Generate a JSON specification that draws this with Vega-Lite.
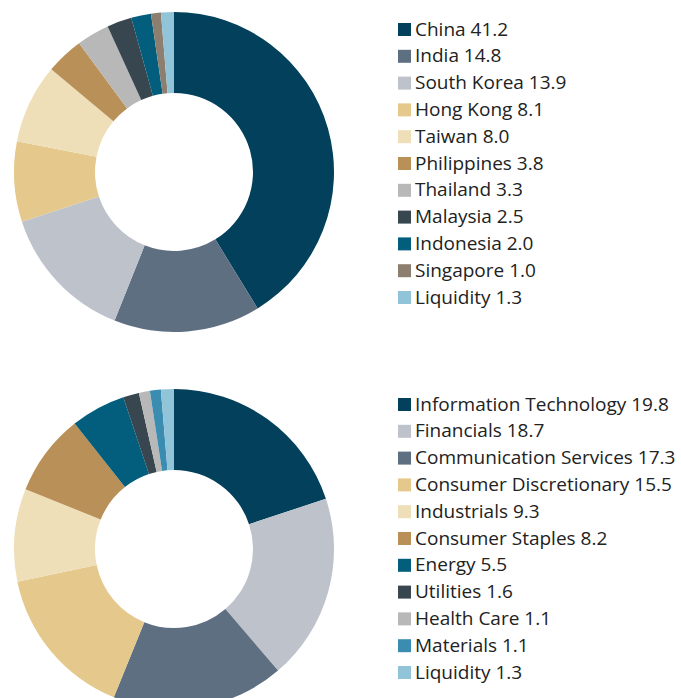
{
  "$schema": "https://vega.github.io/schema/vega-lite/v6.json",
  "padding": 0,
  "spacing": 45,
  "background": "white",
  "config": {
    "view": {"stroke": null},
    "legend": {
      "orient": "none",
      "title": null,
      "symbolType": "square",
      "symbolSize": 169,
      "symbolStrokeWidth": 0,
      "symbolOpacity": 1,
      "labelFont": "Open Sans",
      "labelFontSize": 19,
      "labelColor": "#222222",
      "labelLimit": 400,
      "labelOffset": 1,
      "rowPadding": 6.8,
      "padding": 0
    }
  },
  "datasets": {
    "countries": [
      {"i": 1, "name": "China", "value": 41.2, "label": "China 41.2"},
      {"i": 2, "name": "India", "value": 14.8, "label": "India 14.8"},
      {"i": 3, "name": "South Korea", "value": 13.9, "label": "South Korea 13.9"},
      {"i": 4, "name": "Hong Kong", "value": 8.1, "label": "Hong Kong 8.1"},
      {"i": 5, "name": "Taiwan", "value": 8.0, "label": "Taiwan 8.0"},
      {"i": 6, "name": "Philippines", "value": 3.8, "label": "Philippines 3.8"},
      {"i": 7, "name": "Thailand", "value": 3.3, "label": "Thailand 3.3"},
      {"i": 8, "name": "Malaysia", "value": 2.5, "label": "Malaysia 2.5"},
      {"i": 9, "name": "Indonesia", "value": 2.0, "label": "Indonesia 2.0"},
      {"i": 10, "name": "Singapore", "value": 1.0, "label": "Singapore 1.0"},
      {"i": 11, "name": "Liquidity", "value": 1.3, "label": "Liquidity 1.3"}
    ],
    "sectors": [
      {"i": 1, "name": "Information Technology", "value": 19.8, "label": "Information Technology 19.8"},
      {"i": 2, "name": "Financials", "value": 18.7, "label": "Financials 18.7"},
      {"i": 3, "name": "Communication Services", "value": 17.3, "label": "Communication Services 17.3"},
      {"i": 4, "name": "Consumer Discretionary", "value": 15.5, "label": "Consumer Discretionary 15.5"},
      {"i": 5, "name": "Industrials", "value": 9.3, "label": "Industrials 9.3"},
      {"i": 6, "name": "Consumer Staples", "value": 8.2, "label": "Consumer Staples 8.2"},
      {"i": 7, "name": "Energy", "value": 5.5, "label": "Energy 5.5"},
      {"i": 8, "name": "Utilities", "value": 1.6, "label": "Utilities 1.6"},
      {"i": 9, "name": "Health Care", "value": 1.1, "label": "Health Care 1.1"},
      {"i": 10, "name": "Materials", "value": 1.1, "label": "Materials 1.1"},
      {"i": 11, "name": "Liquidity", "value": 1.3, "label": "Liquidity 1.3"}
    ]
  },
  "vconcat": [
    {
      "width": 348,
      "height": 344,
      "data": {"name": "countries"},
      "mark": {"type": "arc", "outerRadius": 160, "innerRadius": 79},
      "encoding": {
        "theta": {"field": "value", "type": "quantitative", "stack": true},
        "order": {"field": "i", "type": "quantitative"},
        "color": {
          "field": "label",
          "type": "nominal",
          "scale": {
            "domain": ["China 41.2", "India 14.8", "South Korea 13.9", "Hong Kong 8.1", "Taiwan 8.0", "Philippines 3.8", "Thailand 3.3", "Malaysia 2.5", "Indonesia 2.0", "Singapore 1.0", "Liquidity 1.3"],
            "range": ["#02405b", "#5f6f82", "#bdc2cb", "#e5c88b", "#efdfb8", "#b89058", "#b8b8b8", "#37464f", "#035e7e", "#8c7f70", "#91c4d8"]
          },
          "legend": {"legendX": 395, "legendY": 20}
        }
      }
    },
    {
      "width": 348,
      "height": 302,
      "data": {"name": "sectors"},
      "mark": {"type": "arc", "outerRadius": 160, "innerRadius": 79},
      "encoding": {
        "theta": {"field": "value", "type": "quantitative", "stack": true},
        "order": {"field": "i", "type": "quantitative"},
        "color": {
          "field": "label",
          "type": "nominal",
          "scale": {
            "domain": ["Information Technology 19.8", "Financials 18.7", "Communication Services 17.3", "Consumer Discretionary 15.5", "Industrials 9.3", "Consumer Staples 8.2", "Energy 5.5", "Utilities 1.6", "Health Care 1.1", "Materials 1.1", "Liquidity 1.3"],
            "range": ["#02405b", "#bdc2cb", "#5f6f82", "#e5c88b", "#efdfb8", "#b89058", "#035e7e", "#37464f", "#b8b8b8", "#3a8db0", "#91c4d8"]
          },
          "legend": {"legendX": 395, "legendY": -3}
        }
      }
    }
  ],
  "resolve": {"scale": {"color": "independent", "theta": "independent"}, "legend": {"color": "independent"}}
}
